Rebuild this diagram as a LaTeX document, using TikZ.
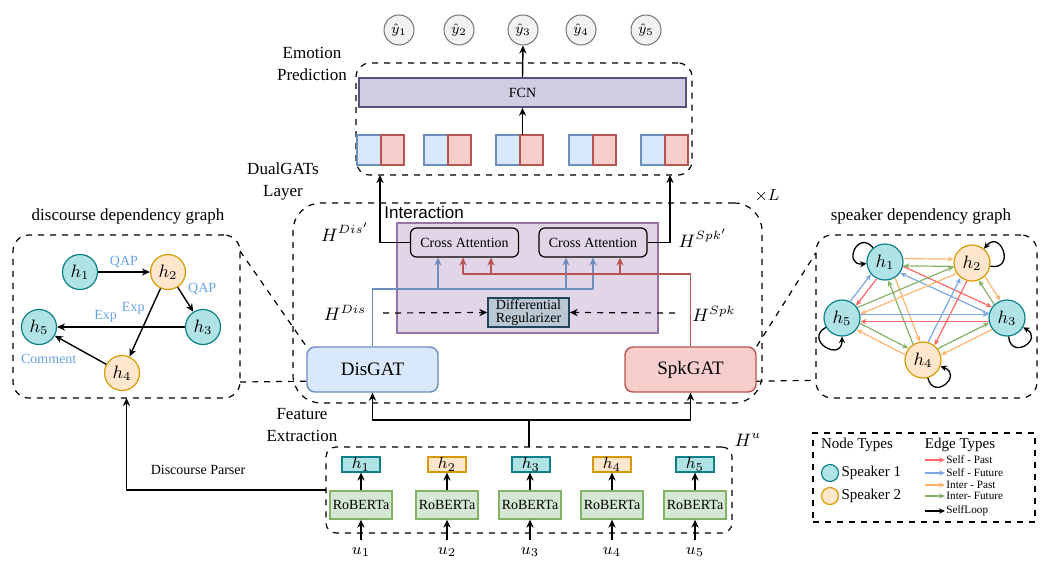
\documentclass[tikz,border=0pt]{standalone}
\usepackage{fontspec}
\setmainfont{Liberation Serif}
\setsansfont{Liberation Sans}
\usepackage{amsmath}
\usepackage{tikz}
\usetikzlibrary{arrows.meta, positioning, calc}

\definecolor{tealfill}{HTML}{B0E3E6}
\definecolor{tealline}{HTML}{0E8088}
\definecolor{orgfill}{HTML}{FFE6CC}
\definecolor{orgline}{HTML}{D79B00}
\definecolor{disfill}{HTML}{DAE8FC}
\definecolor{disline}{HTML}{6C8EBF}
\definecolor{spkfill}{HTML}{F8CECC}
\definecolor{spkline}{HTML}{B85450}
\definecolor{robfill}{HTML}{D5E8D4}
\definecolor{robline}{HTML}{82B366}
\definecolor{intfill}{HTML}{E1D5E7}
\definecolor{intline}{HTML}{9673A6}
\definecolor{fcnfill}{HTML}{D0CEE2}
\definecolor{fcnline}{HTML}{56517E}
\definecolor{regfill}{HTML}{BAC8D3}
\definecolor{regline}{HTML}{23445D}
\definecolor{lblblue}{HTML}{66A3E6}
\definecolor{spastc}{HTML}{FF6666}
\definecolor{sfutc}{HTML}{7EA6E0}
\definecolor{ipastc}{HTML}{FFB570}
\definecolor{ifutc}{HTML}{82B366}

\begin{document}
\begin{tikzpicture}[x=0.5pt, y=-0.5pt,
  font=\fontsize{8.5}{11}\selectfont,
  frame/.style={rectangle, draw=black, dashed, line width=0.6pt, rounded corners=#1, inner sep=0pt, outer sep=0pt},
  frame/.default=6pt,
  yhat/.style={circle, draw=black!55, fill=black!5, line width=0.5pt, minimum size=15pt, inner sep=0pt, font=\fontsize{7}{8}\selectfont},
  fcnbox/.style={rectangle, draw=fcnline, fill=fcnfill, line width=0.8pt, inner sep=0pt, font=\fontsize{7}{8}\selectfont},
  half/.style={rectangle, line width=0.8pt, minimum width=11.75pt, minimum height=15pt, inner sep=0pt, outer sep=0pt},
  dhalf/.style={half, draw=disline, fill=disfill},
  shalf/.style={half, draw=spkline, fill=spkfill},
  gatbox/.style={rectangle, rounded corners=4pt, line width=0.7pt, minimum width=65.5pt, minimum height=22.5pt, inner sep=0pt, font=\fontsize{9.5}{11}\selectfont},
  attbox/.style={rectangle, rounded corners=3pt, draw=black, fill=intfill, line width=0.6pt, minimum width=54pt, minimum height=14.5pt, inner sep=0pt, font=\fontsize{7}{8}\selectfont},
  regbox/.style={rectangle, draw=regline, fill=regfill, line width=0.7pt, minimum width=40.5pt, minimum height=14.5pt, inner sep=0pt, align=center, font=\fontsize{7}{6.5}\selectfont},
  hbox/.style={rectangle, line width=0.6pt, minimum width=19pt, minimum height=7.5pt, inner sep=0pt, font=\fontsize{8.5}{8}\selectfont},
  spkA/.style={draw=tealline, fill=tealfill},
  spkB/.style={draw=orgline, fill=orgfill},
  robbox/.style={rectangle, draw=robline, fill=robfill, line width=0.7pt, minimum width=31pt, minimum height=14pt, inner sep=0pt, font=\fontsize{7}{8}\selectfont},
  gnode/.style={circle, line width=0.6pt, minimum size=17.5pt, inner sep=0pt, font=\fontsize{9}{10}\selectfont},
  legnode/.style={circle, line width=0.6pt, minimum size=8.5pt, inner sep=0pt},
  lbl/.style={text=lblblue, font=\fontsize{7}{8}\selectfont, inner sep=1pt},
  hlbl/.style={font=\fontsize{9}{10}\selectfont},
  arr/.style={-{Stealth[length=4pt, width=3.6pt]}, line width=0.7pt},
  sedge/.style={-{Stealth[length=3pt, width=2.6pt]}, line width=0.6pt, shorten <=9.2pt, shorten >=9.2pt},
  loopedge/.style={-{Stealth[length=3.2pt, width=3pt]}, line width=0.65pt, looseness=3.6},
  spast/.style={draw=spastc}, sfut/.style={draw=sfutc},
  ipast/.style={draw=ipastc}, ifut/.style={draw=ifutc}, selfl/.style={draw=black},
  edgetxt/.style={anchor=west, inner sep=0.5pt, font=\fontsize{5.6}{6}\selectfont}
]
\useasboundingbox (0,0) rectangle (1052,573);

% emotion prediction
\foreach \i/\x in {1/399, 2/459, 3/523, 4/581, 5/646}
  \node[yhat] (y\i) at (\x,30) {$\hat{y}_{\i}$};
\node[frame=7pt, minimum width=168pt, minimum height=56pt] (ep) at (524,119) {};
\node[align=center] (eplbl) at (312,64) {Emotion\\Prediction};
\node[fcnbox, minimum width=163.5pt, minimum height=14.5pt] (fcn) at (522.5,92.5) {FCN};
\foreach \i/\x in {1/369, 2/436, 3/508, 4/581, 5/653} {
  \node[dhalf] (b\i) at (\x,150) {};
  \node[shalf, right=0pt of b\i] (r\i) {};
}
\draw[arr] (fcn.south |- r3.north) -- (fcn.south);
\draw[arr] (fcn.north) -- (y3.south);

% dualGATs layer
\node[frame=14pt, minimum width=234.5pt, minimum height=100pt] (dual) at (527.5,303) {};
\node[align=center] (dulbl) at (283,181) {DualGATs\\Layer};
\node[font=\fontsize{8}{9}\selectfont] (times) at (767,196) {$\times L$};
\node[rectangle, draw=intline, fill=intfill, line width=0.7pt, minimum width=130.5pt, minimum height=55pt] (inter) at (527.5,278) {};
\node[anchor=west, inner sep=0pt, font=\sffamily\fontsize{8.5}{10}\selectfont] (intlbl) at (384,212) {Interaction};
\node[attbox] (ca1) at (464.5,242.5) {Cross Attention};
\node[attbox] (ca2) at (593,242.5) {Cross Attention};
\node[regbox] (reg) at (528.5,312.5) {Differential\\Regularizer};
\node[gatbox, draw=disline, fill=disfill] (dis) at (372.5,369.5) {DisGAT};
\node[gatbox, draw=spkline, fill=spkfill] (spk) at (690.5,369.5) {SpkGAT};
\node[hlbl] (hdisp) at (345,232) {$H^{Dis'}$};
\node[hlbl] (hdis) at (345,313) {$H^{Dis}$};
\node[hlbl] (hspkp) at (703,238) {$H^{Spk'}$};
\node[hlbl] (hspk) at (714,314) {$H^{Spk}$};

\coordinate (o1) at (380,175);
\coordinate (o2) at (670,175);
\draw[arr] (ca1.west) -| (o1);
\draw[arr] (ca2.east) -| (o2);

\coordinate (dl) at (383,313);
\coordinate (dr) at (675,313);
\draw[arr, dashed, line width=0.6pt] (dl) -- (reg.west);
\draw[arr, dashed, line width=0.6pt] (dr) -- (reg.east);

\coordinate (bj1) at (438,289);
\coordinate (bj2) at (566,289);
\coordinate (bj3) at (593,289);
\draw[disline, line width=0.8pt] (dis.north) |- (bj3);
\foreach \c/\t in {bj1/ca1, bj2/ca2, bj3/ca2}
  \draw[arr, disline, line width=0.8pt] (\c) -- (\c |- \t.south);
\coordinate (rj1) at (463,274);
\coordinate (rj2) at (491,274);
\coordinate (rj3) at (620,274);
\draw[spkline, line width=0.8pt] (spk.north) |- (rj1);
\foreach \c/\t in {rj1/ca1, rj2/ca1, rj3/ca2}
  \draw[arr, spkline, line width=0.8pt] (\c) -- (\c |- \t.south);

% feature extraction
\node[frame=5pt, minimum width=203pt, minimum height=43pt] (hu) at (529,490) {};
\node[hlbl] (hulbl) at (748,440) {$H^{u}$};
\node[align=center] (felbl) at (302,425) {Feature\\Extraction};
\foreach \i/\x/\s in {1/361/spkA, 2/447/spkB, 3/531/spkA, 4/612/spkB, 5/695/spkA}
  \node[hbox, \s] (hb\i) at (\x,464.5) {$h_{\i}$};
\foreach \i/\x in {1/361, 2/447, 3/530, 4/612, 5/695} {
  \node[robbox] (rob\i) at (\x,505) {RoBERTa};
  \node[font=\fontsize{8.5}{9}\selectfont] (u\i) at (\x,552) {$u_{\i}$};
  \draw[arr, line width=0.6pt] (u\i.north) -- (rob\i.south);
  \draw[arr, line width=0.6pt] (rob\i.north) -- (hb\i.south -| rob\i.north);
}
\coordinate (fj) at (529,420);
\draw[line width=0.7pt] (hu.north) -- (fj);
\draw[arr] (fj) -| (dis.south);
\draw[arr] (fj) -| (spk.south);

% discourse dependency graph
\node[frame=8pt, minimum width=113.5pt, minimum height=81.5pt] (dg) at (126.5,316.5) {};
\node (dglbl) at (128,216) {discourse dependency graph};
\node[gnode, spkA] (d1) at (80,272) {$h_1$};
\node[gnode, spkB] (d2) at (168,272) {$h_2$};
\node[gnode, spkA] (d3) at (203,327) {$h_3$};
\node[gnode, spkB] (d4) at (122,373) {$h_4$};
\node[gnode, spkA] (d5) at (39,327) {$h_5$};
\draw[arr] (d1) -- node[lbl, above=1pt] {QAP} (d2);
\draw[arr] (d2) -- node[lbl, above right=1pt and 0pt] {QAP} (d3);
\draw[arr] (d2) -- node[lbl, left=2pt, pos=0.3] {Exp} (d4);
\draw[arr] (d3) -- node[lbl, above=1pt, pos=0.62] {Exp} (d5);
\draw[arr] (d4) -- node[lbl, below left=0pt and 2pt, pos=0.45] {Comment} (d5);
\node[font=\fontsize{7}{8}\selectfont] (dplbl) at (198,470) {Discourse Parser};
\draw[arr] (hu.west) -| (dg.south);
\draw[dashed, line width=0.6pt] (dg.30) -- (dis.north west);
\draw[dashed, line width=0.6pt] (dg.-30) -- (dis.190);

% speaker dependency graph
\node[frame=8pt, minimum width=110.5pt, minimum height=81.5pt] (sg) at (926.5,316.5) {};
\node (sglbl) at (921,216) {speaker dependency graph};
\node[gnode, spkA, minimum size=18pt] (s1) at (885,262) {$h_1$};
\node[gnode, spkB, minimum size=18pt] (s2) at (972,263) {$h_2$};
\node[gnode, spkA, minimum size=18pt] (s3) at (1007,318) {$h_3$};
\node[gnode, spkB, minimum size=18pt] (s4) at (923,360) {$h_4$};
\node[gnode, spkA, minimum size=18pt] (s5) at (842,318) {$h_5$};
\foreach \a/\b/\fw/\bw in {s1/s2/ipast/ifut, s1/s3/spast/sfut, s1/s4/ipast/ifut, s1/s5/spast/sfut,
    s2/s3/ipast/ifut, s2/s4/spast/sfut, s2/s5/ipast/ifut, s3/s4/ipast/ifut, s3/s5/spast/sfut, s4/s5/ipast/ifut} {
  \draw[sedge, \fw] ($(\a)!1.8pt!90:(\b)$) -- ($(\b)!1.8pt!-90:(\a)$);
  \draw[sedge, \bw] ($(\b)!1.8pt!90:(\a)$) -- ($(\a)!1.8pt!-90:(\b)$);
}
\draw[loopedge] (s1.130) to[out=130, in=185] (s1.185);
\draw[loopedge] (s2.-10) to[out=-10, in=50] (s2.50);
\draw[loopedge] (s3.-85) to[out=-85, in=-30] (s3.-30);
\draw[loopedge] (s5.-150) to[out=-150, in=-90] (s5.-90);
\draw[loopedge] (s4.-75) to[out=-75, in=-20] (s4.-20);
\draw[dashed, line width=0.6pt] (spk.north east) -- (sg.150);
\draw[dashed, line width=0.6pt] (spk.-10) -- (sg.210);

% legend
\node[rectangle, draw, dashed, line width=0.6pt, minimum width=111pt, minimum height=44.5pt] (leg) at (924,477.5) {};
\node[font=\fontsize{7.5}{8}\selectfont] (ntlbl) at (857,445) {Node Types};
\node[font=\fontsize{7.5}{8}\selectfont] (etlbl) at (960,445) {Edge Types};
\node[legnode, spkA] (lg1) at (830,473) {};
\node[legnode, spkB] (lg2) at (830,496) {};
\node[anchor=west, inner sep=1pt, font=\fontsize{7.5}{8}\selectfont] at (lg1.east) {Speaker 1};
\node[anchor=west, inner sep=1pt, font=\fontsize{7.5}{8}\selectfont] at (lg2.east) {Speaker 2};
\foreach \y/\s/\t in {460/spast/Self - Past, 473/sfut/Self - Future, 485/ipast/Inter - Past, 496/ifut/Inter- Future, 511/selfl/SelfLoop} {
  \coordinate (ls\y) at (925,\y);
  \node[edgetxt] (lt\y) at (945,\y) {\t};
  \draw[-{Stealth[length=3pt, width=2.6pt]}, line width=0.6pt, \s] (ls\y) -- (lt\y.west);
}
\end{tikzpicture}
\end{document}
